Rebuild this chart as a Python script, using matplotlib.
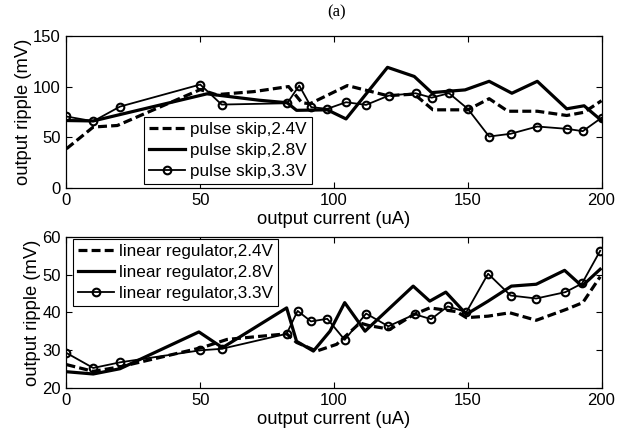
import matplotlib
matplotlib.use("Agg")
import matplotlib.pyplot as plt

# ---- data: pulse skip (top) ----
x_ps_24 = [0, 10, 19, 50, 56, 70, 83, 88, 91, 105, 120, 130, 137, 150, 158, 165, 176, 187, 193.5, 200]
y_ps_24 = [38.5, 60, 61.5, 97, 92, 95, 100, 84, 83, 101, 91, 92.5, 77, 77, 88, 75.6, 75.6, 71.4, 74.6, 86]

x_ps_28 = [0, 10, 52.5, 72, 82.5, 86, 97.5, 104.5, 120, 130, 136.5, 149, 158, 166.5, 176, 187, 193.5, 200]
y_ps_28 = [66.4, 66, 92.8, 86.5, 84, 76.5, 77, 68, 119, 110, 94, 96.7, 105.2, 93.4, 105.2, 78, 81, 66.4]

x_ps_33 = [0, 10, 20, 50, 58, 82.5, 87, 91.5, 97.5, 104.5, 112, 120.5, 130.5, 136.5, 143, 150, 158, 166, 176, 187, 193, 200]
y_ps_33 = [70.4, 65.7, 80.2, 102, 82.2, 83.5, 101, 79.6, 78, 84.5, 81.9, 91.1, 93.4, 89, 93.4, 78, 50.6, 53.3, 60.5, 58.2, 55.9, 69.1]

# ---- data: linear regulator (bottom) ----
x_lr_24 = [0, 10, 20, 51, 60, 82.3, 86, 93.5, 101, 109.7, 113, 120.9, 130, 135.8, 145.8, 149.5, 157.6, 165.7, 175.6, 186.8, 193, 199.5]
y_lr_24 = [26.1, 24.3, 25.5, 30.7, 32.8, 34.3, 32, 29.7, 31.5, 37.2, 36.5, 35.5, 39.5, 41.2, 40.2, 38.6, 39, 39.9, 37.9, 40.8, 42.6, 49.5]

x_lr_28 = [0, 10, 20, 49.5, 58.3, 82.3, 86, 92.3, 98.5, 104, 111.6, 129.6, 135.8, 141.8, 149.5, 157.6, 166.3, 175.6, 186.2, 192.7, 199.5]
y_lr_28 = [24.2, 23.6, 25, 34.8, 30.6, 41.2, 32.3, 29.7, 35, 42.6, 35, 47, 43, 45.4, 39.5, 43, 47, 47.5, 51.2, 47, 51.5]

x_lr_33 = [0, 10, 20, 50, 58, 82.3, 86.4, 91.4, 97.5, 104, 112, 120.3, 130.2, 136.3, 142.5, 149.5, 157.6, 166, 175.6, 186.5, 192.7, 199.5]
y_lr_33 = [29.2, 25.2, 26.7, 29.9, 30.3, 34.3, 40.4, 37.6, 38.3, 32.7, 39.7, 36.3, 39.5, 38.2, 41.6, 40.1, 50.3, 44.5, 43.7, 45.4, 47.7, 56.4]

labels_top = ["pulse skip,2.4V", "pulse skip,2.8V", "pulse skip,3.3V"]
labels_bot = ["linear regulator,2.4V", "linear regulator,2.8V", "linear regulator,3.3V"]
xticks = [0, 50, 100, 150, 200]
yticks_top = [0, 50, 100, 150]
yticks_bot = [20, 30, 40, 50, 60]

plt.rcParams['font.family'] = ['Liberation Sans', 'DejaVu Sans']

fig = plt.figure(figsize=(6.29, 4.32), dpi=100)
ax1 = fig.add_axes([0.1057, 0.5655, 0.8506, 0.3512])
ax2 = fig.add_axes([0.1057, 0.1030, 0.8506, 0.3477])

thick = 2.3
thin = 1.3
dash = (0, (2.8, 1.3))
mk = dict(marker='o', markersize=5.5, markerfacecolor='none', markeredgewidth=1.5, markeredgecolor='black')

def draw(ax, xs, ys, labels, yticks, ylim, leg_loc, leg_anchor):
    ax.plot(xs[0], ys[0], color='black', lw=thick, linestyle=dash, label=labels[0])
    ax.plot(xs[1], ys[1], color='black', lw=thick, label=labels[1])
    ax.plot(xs[2], ys[2], color='black', lw=thin, label=labels[2], **mk)
    ax.set_xlim(0, 200)
    ax.set_ylim(*ylim)
    ax.set_xticks(xticks)
    ax.set_yticks(yticks)
    ax.tick_params(direction='in', top=True, right=True, length=4, width=0.8,
                   labelsize=12, pad=4)
    for s in ax.spines.values():
        s.set_linewidth(0.9)
    ax.set_xlabel("output current (uA)", fontsize=13.2, labelpad=2)
    ax.set_ylabel("output ripple (mV)", fontsize=13.2, labelpad=1)
    leg = ax.legend(loc=leg_loc, bbox_to_anchor=leg_anchor, bbox_transform=ax.transAxes,
                    borderaxespad=0, fontsize=12.3, fancybox=False, framealpha=1,
                    edgecolor='black', handlelength=2.1, handletextpad=0.3,
                    labelspacing=0.35, borderpad=0.3)
    leg.get_frame().set_linewidth(0.8)

draw(ax1, [x_ps_24, x_ps_28, x_ps_33], [y_ps_24, y_ps_28, y_ps_33], labels_top,
     yticks_top, (0, 150), 'lower left', (0.145, 0.024))
draw(ax2, [x_lr_24, x_lr_28, x_lr_33], [y_lr_24, y_lr_28, y_lr_33], labels_bot,
     yticks_bot, (20, 60), 'upper left', (0.012, 0.9875))

fig.text(0.535, 0.972, "(a)", ha='center', va='center', fontsize=12,
         family=['Liberation Serif', 'DejaVu Serif'])

fig.savefig("out.png", dpi=100)
